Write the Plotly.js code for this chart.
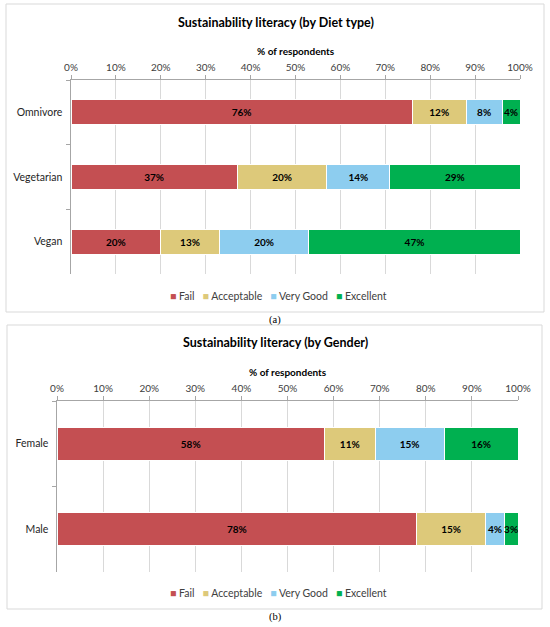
<!DOCTYPE html>
<html>
<head>
<meta charset="utf-8">
<script src="https://cdn.plot.ly/plotly-3.0.1.min.js"></script>
<style>
html,body{margin:0;padding:0;background:#fff;}
#chart{width:550px;height:627px;}
</style>
</head>
<body>
<div id="chart"></div>
<script>
// ---- data ----
var levels = ["Fail", "Acceptable", "Very Good", "Excellent"];
var levelColors = ["#C44F52", "#DDC97A", "#8DCDEF", "#00B050"];

var dietCategories = ["Omnivore", "Vegetarian", "Vegan"];
var dietFail = [76, 37, 20];
var dietAcceptable = [12, 20, 13];
var dietVeryGood = [8, 14, 20];
var dietExcellent = [4, 29, 47];

var genderCategories = ["Female", "Male"];
var genderFail = [58, 78];
var genderAcceptable = [11, 15];
var genderVeryGood = [15, 4];
var genderExcellent = [16, 3];

var xTickValues = [0, 10, 20, 30, 40, 50, 60, 70, 80, 90, 100];
var xTickLabels = ["0%", "10%", "20%", "30%", "40%", "50%", "60%", "70%", "80%", "90%", "100%"];

var titleA = "Sustainability literacy (by Diet type)";
var titleB = "Sustainability literacy (by Gender)";
var xTitle = "% of respondents";

// ---- build ----
var W = 550, H = 627;
function px(x){ return x / W; }
function py(y){ return 1 - y / H; }

var FONT = "Lato, 'Open Sans', sans-serif";
var dietSeries = [dietFail, dietAcceptable, dietVeryGood, dietExcellent];
var genderSeries = [genderFail, genderAcceptable, genderVeryGood, genderExcellent];

function barTrace(name, i, values, cats, xa, ya){
  return {
    type: "bar", orientation: "h", name: name,
    x: values, y: cats, xaxis: xa, yaxis: ya,
    marker: {color: levelColors[i], line: {color: "#FFFFFF", width: 1}},
    text: values.map(function(v){ return v + "%"; }),
    textposition: "inside", insidetextanchor: "middle", textangle: 0,
    textfont: {family: FONT, size: 10, color: "#000000", weight: 700},
    hoverinfo: "skip", showlegend: false
  };
}

var traces = [];
levels.forEach(function(name, i){ traces.push(barTrace(name, i, dietSeries[i], dietCategories, "x", "y")); });
levels.forEach(function(name, i){ traces.push(barTrace(name, i, genderSeries[i], genderCategories, "x2", "y2")); });

function xaxisDef(domain, anchor){
  return {
    domain: domain, anchor: anchor, side: "top",
    range: [0, 100], tickvals: xTickValues, ticktext: xTickLabels,
    showgrid: true, gridcolor: "#D9D9D9", gridwidth: 1,
    showline: true, linecolor: "#A6A6A6", linewidth: 1.2,
    ticks: "outside", ticklen: 4, tickcolor: "#A6A6A6",
    tickfont: {family: FONT, size: 10, color: "#404040"},
    zeroline: false, fixedrange: true
  };
}
function yaxisDef(domain, anchor){
  return {
    domain: domain, anchor: anchor, autorange: "reversed",
    type: "category",
    showline: true, linecolor: "#A6A6A6", linewidth: 1.5,
    ticks: "outside", ticklen: 4, tickcolor: "#A6A6A6", tickson: "boundaries",
    ticklabelstandoff: 5,
    tickfont: {family: FONT, size: 10.5, color: "#262626"},
    showgrid: false, zeroline: false, fixedrange: true
  };
}

// legend text built from the series names and colours
var legendText = levels.map(function(n, i){
  return "<span style='color:" + levelColors[i] + "'>■</span> " + n;
}).join("&nbsp;&nbsp;&nbsp;");

var layout = {
  width: W, height: H,
  margin: {l: 0, r: 0, t: 0, b: 0},
  paper_bgcolor: "#FFFFFF", plot_bgcolor: "#FFFFFF",
  barmode: "stack", bargap: 0.61,
  uniformtext: {mode: "show", minsize: 10},
  showlegend: false,
  font: {family: FONT},
  xaxis: xaxisDef([px(71), px(520)], "y"),
  yaxis: yaxisDef([py(274), py(80)], "x"),
  xaxis2: xaxisDef([px(57), px(518)], "y2"),
  yaxis2: yaxisDef([py(572), py(401)], "x2"),
  shapes: [
    {type: "rect", xref: "paper", yref: "paper", x0: px(6), x1: px(544), y0: py(312), y1: py(4),
     line: {color: "#D9D9D9", width: 1}, layer: "below"},
    {type: "rect", xref: "paper", yref: "paper", x0: px(7), x1: px(542), y0: py(609), y1: py(325),
     line: {color: "#D9D9D9", width: 1}, layer: "below"}
  ],
  annotations: [
    {text: "<b>" + titleA + "</b>", xref: "paper", yref: "paper", x: px(276), y: py(22),
     xanchor: "center", yanchor: "middle", showarrow: false,
     font: {family: FONT, size: 12.5, color: "#000000"}},
    {text: "<b>" + xTitle + "</b>", xref: "paper", yref: "paper", x: px(296), y: py(51),
     xanchor: "center", yanchor: "middle", showarrow: false,
     font: {family: FONT, size: 10, color: "#000000"}},
    {text: legendText, xref: "paper", yref: "paper", x: px(278), y: py(296),
     xanchor: "center", yanchor: "middle", showarrow: false,
     font: {family: FONT, size: 10.5, color: "#404040"}},
    {text: "(a)", xref: "paper", yref: "paper", x: px(275), y: py(320),
     xanchor: "center", yanchor: "middle", showarrow: false,
     font: {family: "'Liberation Serif', serif", size: 10.5, color: "#000000"}},
    {text: "<b>" + titleB + "</b>", xref: "paper", yref: "paper", x: px(275), y: py(342),
     xanchor: "center", yanchor: "middle", showarrow: false,
     font: {family: FONT, size: 12.5, color: "#000000"}},
    {text: "<b>" + xTitle + "</b>", xref: "paper", yref: "paper", x: px(288), y: py(372),
     xanchor: "center", yanchor: "middle", showarrow: false,
     font: {family: FONT, size: 10, color: "#000000"}},
    {text: legendText, xref: "paper", yref: "paper", x: px(278), y: py(593),
     xanchor: "center", yanchor: "middle", showarrow: false,
     font: {family: FONT, size: 10.5, color: "#404040"}},
    {text: "(b)", xref: "paper", yref: "paper", x: px(275), y: py(617),
     xanchor: "center", yanchor: "middle", showarrow: false,
     font: {family: "'Liberation Serif', serif", size: 10.5, color: "#000000"}}
  ]
};

Plotly.newPlot("chart", traces, layout, {staticPlot: true, displayModeBar: false});
</script>
</body>
</html>
